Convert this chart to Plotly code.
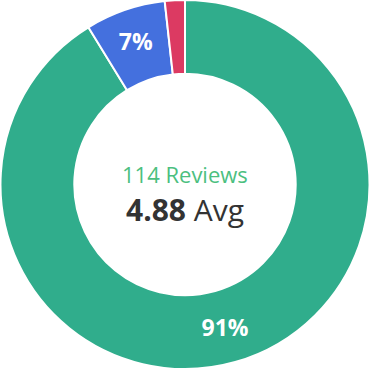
import plotly.graph_objects as go

labels = ["5 Stars", "4 Stars", "2 Stars"]
counts = [104, 8, 2]
colors = ["#30ad8c", "#4470de", "#dc3a62"]
total_reviews = 114
avg_rating = 4.88

tot = sum(counts)
text = [f"{round(c / tot * 100)}%" if c / tot >= 0.05 else "" for c in counts]

fig = go.Figure(go.Pie(
    labels=labels,
    values=counts,
    text=text,
    textinfo="text",
    textposition="inside",
    insidetextorientation="horizontal",
    hole=0.6,
    sort=False,
    direction="clockwise",
    rotation=0,
    marker=dict(colors=colors, line=dict(color="white", width=2)),
    textfont=dict(family="Open Sans", size=23, color="white", weight="bold"),
    showlegend=False,
))

fig.add_annotation(
    x=0.5, y=0.528, xref="paper", yref="paper",
    text=f"{total_reviews} Reviews", showarrow=False,
    font=dict(family="Open Sans", size=22, color="#4cbf7f"),
)
fig.add_annotation(
    x=0.5, y=0.432, xref="paper", yref="paper",
    text=f"<b>{avg_rating:.2f}</b> Avg", showarrow=False,
    font=dict(family="Open Sans", size=30, color="#333333"),
)

fig.update_layout(
    width=370, height=369,
    margin=dict(l=0, r=0, t=0, b=0),
    paper_bgcolor="white",
    plot_bgcolor="white",
)

fig.write_html("out.html", config={"displayModeBar": False},
               post_script="document.body.style.margin='0';")
